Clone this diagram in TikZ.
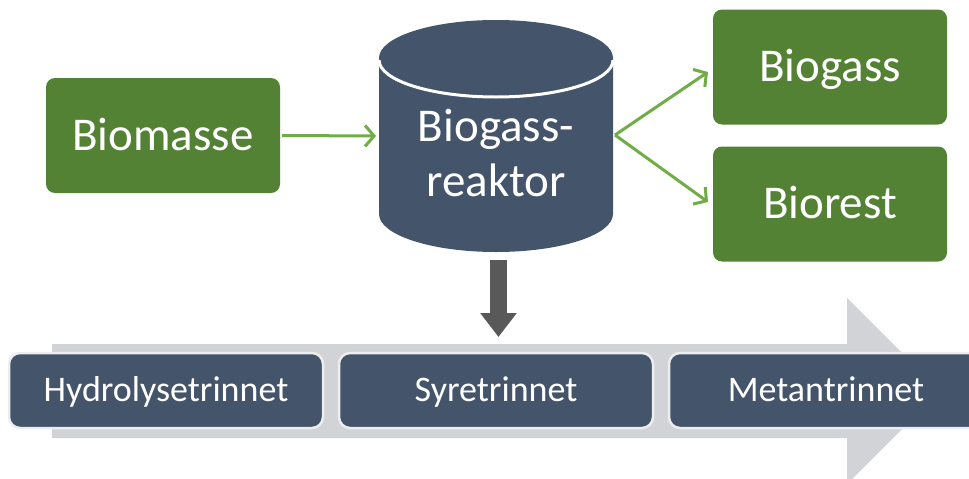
\documentclass[tikz,border=0pt]{standalone}
\usepackage{fontspec}
\setmainfont{Carlito}
\usetikzlibrary{arrows.meta}
\definecolor{boxgreen}{HTML}{548235}
\definecolor{arrgreen}{HTML}{70AD47}
\definecolor{slate}{HTML}{44546A}
\definecolor{darkarr}{HTML}{595959}
\definecolor{bandgray}{HTML}{D1D3D6}
\definecolor{rimgray}{HTML}{ECEDEF}
\tikzset{
  greenbox/.style={fill=boxgreen, rounded corners=9pt, minimum width=234pt, minimum height=115pt, inner sep=0pt, text=white, text height=36pt, text depth=7pt, font=\fontsize{47}{55}\selectfont},
  stagebox/.style={fill=slate, draw=rimgray, line width=2.5pt, rounded corners=11pt, minimum width=314pt, minimum height=75pt, inner sep=0pt, text=white, text height=28pt, text depth=5.6pt, font=\fontsize{36}{42}\selectfont},
  flow/.style={draw=arrgreen, line width=3pt, -{Straight Barb[length=9pt,width=21pt]}},
  downarr/.style={draw=darkarr, line width=17pt, -{Triangle[length=24pt,width=35pt]}}
}
\begin{document}
\begin{tikzpicture}[x=1pt,y=-1pt]
\useasboundingbox (0,0) rectangle (969,479);
\clip (0,0) rectangle (969,479);
% big process arrow
\fill[bandgray] (52,344) -- (847,344) -- (847,298) -- (940,391) -- (847,484) -- (847,438) -- (52,438) -- cycle;
% stage boxes
\node[stagebox] (hyd) at (166,390.5) {Hydrolysetrinnet};
\node[stagebox] (syr) at (496,390.5) {Syretrinnet};
\node[stagebox] (met) at (826,390.5) {Metantrinnet};
% top boxes
\node[greenbox] (biomasse) at (163,135.5) {Biomasse};
\node[greenbox] (biogass) at (830,67) {Biogass};
\node[greenbox] (biorest) at (830,204) {Biorest};
% cylinder
\fill[slate] (379,58) -- (379,214) arc[start angle=180, end angle=360, x radius=117pt, y radius=38pt] -- (613,58) arc[start angle=0, end angle=180, x radius=117pt, y radius=38pt] -- cycle;
\draw[white, line width=3pt] (379,60) arc[start angle=180, end angle=360, x radius=117pt, y radius=37pt];
\node[text=white, align=center, font=\fontsize{47}{55}\selectfont, inner sep=0pt] (reactor) at (496,153) {Biogass-\\reaktor};
% connectors
\coordinate (rin) at (376,136);
\coordinate (rout) at (615,135);
\coordinate (gtip) at (708,72);
\coordinate (btip) at (708,202);
\coordinate (dtop) at (498.5,260);
\coordinate (dbot) at (498.5,337);
\draw[flow] (biomasse.east) ++(2,0) coordinate (bstart) (bstart) -- (rin);
\draw[flow] (rout) -- (gtip);
\draw[flow] (rout) -- (btip);
\draw[downarr] (dtop) -- (dbot);
\end{tikzpicture}
\end{document}
